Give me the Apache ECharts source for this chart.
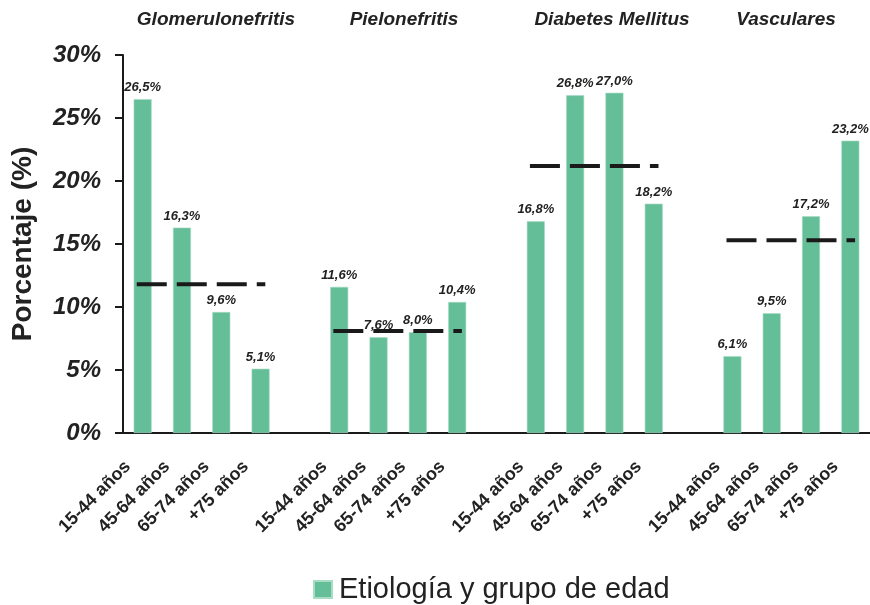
<!DOCTYPE html>
<html>
<head>
<meta charset="utf-8">
<script src="https://cdn.jsdelivr.net/npm/echarts@6/dist/echarts.min.js"></script>
<style>
  html, body { margin: 0; padding: 0; background: #fff; }
  #chart { width: 870px; height: 605px; }
</style>
</head>
<body>
<div id="chart"></div>
<script>
// Etiologías y grupos de edad
const grupos = ['Glomerulonefritis', 'Pielonefritis', 'Diabetes Mellitus', 'Vasculares'];
const edades = ['15-44 años', '45-64 años', '65-74 años', '+75 años'];

// Porcentaje por grupo de edad (%)
const glomerulonefritis = [26.5, 16.3, 9.6, 5.1];
const pielonefritis = [11.6, 7.6, 8.0, 10.4];
const diabetesMellitus = [16.8, 26.8, 27.0, 18.2];
const vasculares = [6.1, 9.5, 17.2, 23.2];

// Valor global de cada etiología (línea discontinua)
const mediaEtiologia = [11.8, 8.1, 21.2, 15.3];

const ticksY = [0, 5, 10, 15, 20, 25, 30];
const nombreSerie = 'Etiología y grupo de edad';

// Posición horizontal del título de cada etiología
const tituloX = [216, 404, 612, 786];

const valoresPorGrupo = [glomerulonefritis, pielonefritis, diabetesMellitus, vasculares];

// Eje de categorías: 4 barras por grupo y un hueco entre grupos
const categorias = [];
const valores = [];
valoresPorGrupo.forEach((vals, g) => {
  if (g > 0) { categorias.push(''); valores.push('-'); }
  edades.forEach((e, i) => { categorias.push(e); valores.push(vals[i]); });
});

const FONT = '"Liberation Sans", Arial, Helvetica, sans-serif';
const TEXT = '#222222';
const VERDE = '#64BE98';

// Líneas discontinuas sobre un eje x numérico oculto alineado con las categorías
const lineas = mediaEtiologia.map((m, g) => ({
  type: 'line',
  xAxisIndex: 1,
  yAxisIndex: 0,
  data: [[g * 5 - 0.15, m], [g * 5 + 3.12, m]],
  symbol: 'none',
  silent: true,
  z: 5,
  lineStyle: { color: '#1a1a1a', width: 4, type: [30, 10], cap: 'butt' }
}));

const chart = echarts.init(document.getElementById('chart'), null, { renderer: 'canvas' });
chart.setOption({
  animation: false,
  backgroundColor: '#ffffff',
  textStyle: { fontFamily: FONT },
  grid: { left: 123, right: 0, top: 55, bottom: 172, containLabel: false, outerBoundsMode: 'none' },
  legend: {
    data: [nombreSerie],
    left: 313,
    top: 575,
    padding: 0,
    icon: 'rect',
    itemWidth: 18,
    itemHeight: 17,
    itemGap: 8,
    textStyle: { fontFamily: FONT, fontSize: 29, color: TEXT, padding: [0, 0, 0, 2] }
  },
  graphic: grupos.map((t, g) => ({
    type: 'text',
    x: tituloX[g],
    y: 20,
    style: {
      text: t,
      textAlign: 'center',
      textVerticalAlign: 'middle',
      font: 'italic bold 19px ' + FONT,
      fill: TEXT
    }
  })),
  xAxis: [
    {
      type: 'category',
      data: categorias,
      boundaryGap: true,
      axisLine: { show: true, onZero: false, lineStyle: { color: '#1a1a1a', width: 2 } },
      axisTick: { show: false },
      axisLabel: {
        interval: 0,
        rotate: 45,
        margin: 16,
        padding: [0, 21, 0, 0],
        fontFamily: FONT,
        fontSize: 18,
        fontWeight: 'bold',
        color: TEXT
      },
      splitLine: { show: false }
    },
    {
      type: 'value',
      min: -0.5,
      max: categorias.length - 0.5,
      show: false
    }
  ],
  yAxis: {
    type: 'value',
    min: 0,
    max: 30,
    interval: 5,
    name: 'Porcentaje (%)',
    nameLocation: 'middle',
    nameGap: 86,
    nameRotate: 90,
    nameTextStyle: { fontFamily: FONT, fontSize: 28, fontWeight: 'bold', color: TEXT },
    axisLine: { show: true, onZero: false, lineStyle: { color: '#1a1a1a', width: 2 } },
    axisTick: { show: true, inside: false, length: 8, lineStyle: { color: '#1a1a1a', width: 2 } },
    axisLabel: {
      margin: 22,
      fontFamily: FONT,
      fontSize: 24,
      fontWeight: 'bold',
      fontStyle: 'italic',
      color: TEXT,
      formatter: v => ticksY.includes(v) ? v + '%' : ''
    },
    splitLine: { show: false }
  },
  series: [
    {
      name: nombreSerie,
      type: 'bar',
      xAxisIndex: 0,
      data: valores,
      barWidth: 18,
      itemStyle: { color: VERDE, borderColor: '#a8dcc4', borderWidth: 0.6 },
      label: {
        show: true,
        position: 'top',
        distance: 5,
        fontFamily: FONT,
        fontSize: 13,
        fontWeight: 'bold',
        fontStyle: 'italic',
        color: TEXT,
        formatter: p => p.value.toFixed(1).replace('.', ',') + '%'
      },
      z: 2
    },
    ...lineas
  ]
});
</script>
</body>
</html>
